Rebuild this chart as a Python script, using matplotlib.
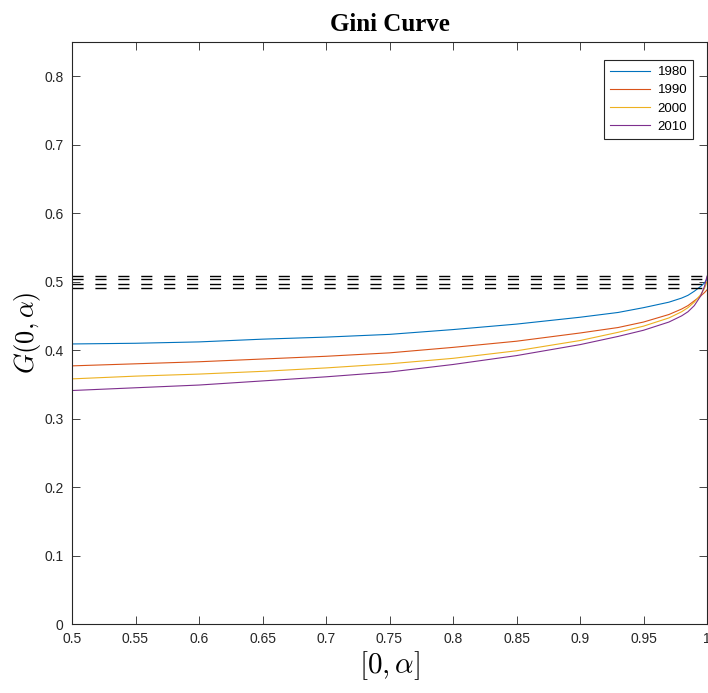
import matplotlib
matplotlib.use("Agg")
import matplotlib.pyplot as plt

# alpha grid
alpha = [0.5, 0.55, 0.6, 0.65, 0.7, 0.75, 0.8, 0.85, 0.9, 0.93, 0.95, 0.97, 0.98, 0.985, 0.99, 0.995, 0.998, 1.0]

years = ['1980', '1990', '2000', '2010']
g1980 = [0.409, 0.410, 0.412, 0.416, 0.419, 0.423, 0.430, 0.438, 0.448, 0.455, 0.462, 0.470, 0.476, 0.480, 0.486, 0.493, 0.498, 0.504]
g1990 = [0.377, 0.380, 0.383, 0.387, 0.391, 0.396, 0.404, 0.413, 0.425, 0.433, 0.441, 0.452, 0.460, 0.465, 0.472, 0.479, 0.484, 0.488]
g2000 = [0.358, 0.362, 0.365, 0.369, 0.374, 0.380, 0.388, 0.399, 0.414, 0.426, 0.435, 0.447, 0.456, 0.462, 0.470, 0.481, 0.490, 0.500]
g2010 = [0.341, 0.345, 0.349, 0.355, 0.361, 0.368, 0.379, 0.392, 0.408, 0.420, 0.429, 0.441, 0.450, 0.456, 0.465, 0.479, 0.493, 0.508]

# full Gini values (dashed reference lines)
gini_full = [0.508, 0.504, 0.496, 0.491]

colors = ['#0072BD', '#D95319', '#EDB120', '#7E2F8E']

plt.rcParams['mathtext.fontset'] = 'cm'

fig = plt.figure(figsize=(7.08, 6.93), dpi=100)
ax = fig.add_axes([72 / 708, 69 / 693, 635 / 708, 582 / 693])

for series, year, c in zip([g1980, g1990, g2000, g2010], years, colors):
    ax.plot(alpha, series, color=c, lw=0.8, label=year)

for g in gini_full:
    ax.plot([alpha[0], alpha[-1]], [g, g], color='black', lw=1.0,
            dashes=(8, 8.5))

ax.set_xlim(0.5, 1.0)
ax.set_ylim(0, 0.85)
ax.set_xticks([0.5, 0.55, 0.6, 0.65, 0.7, 0.75, 0.8, 0.85, 0.9, 0.95, 1.0])
ax.set_xticklabels(['0.5', '0.55', '0.6', '0.65', '0.7', '0.75', '0.8', '0.85', '0.9', '0.95', '1'])
ax.set_yticks([0, 0.1, 0.2, 0.3, 0.4, 0.5, 0.6, 0.7, 0.8])
ax.set_yticklabels(['0', '0.1', '0.2', '0.3', '0.4', '0.5', '0.6', '0.7', '0.8'])

for s in ax.spines.values():
    s.set_color('#262626')
    s.set_linewidth(0.8)
ax.tick_params(direction='in', top=True, right=True, length=6, width=0.6,
               colors='#262626', labelsize=10, pad=6)
for lbl in ax.get_xticklabels() + ax.get_yticklabels():
    lbl.set_family('Liberation Sans')

ax.set_title('Gini Curve', family='Liberation Serif', fontweight='bold',
             fontsize=18, pad=8)
ax.set_xlabel(r'$[0,\alpha]$', fontsize=21, labelpad=2)
ax.set_ylabel(r'$G(0,\alpha)$', fontsize=19, labelpad=1)

leg = ax.legend(loc='upper right', bbox_to_anchor=(0.978, 0.969),
                borderaxespad=0,
                prop={'family': 'Liberation Sans', 'size': 9.5},
                fancybox=False, edgecolor='#262626', framealpha=1,
                handlelength=3.0, handletextpad=0.6, borderpad=0.45,
                labelspacing=0.45)
leg.get_frame().set_linewidth(0.8)

fig.savefig('out.png', dpi=100)
